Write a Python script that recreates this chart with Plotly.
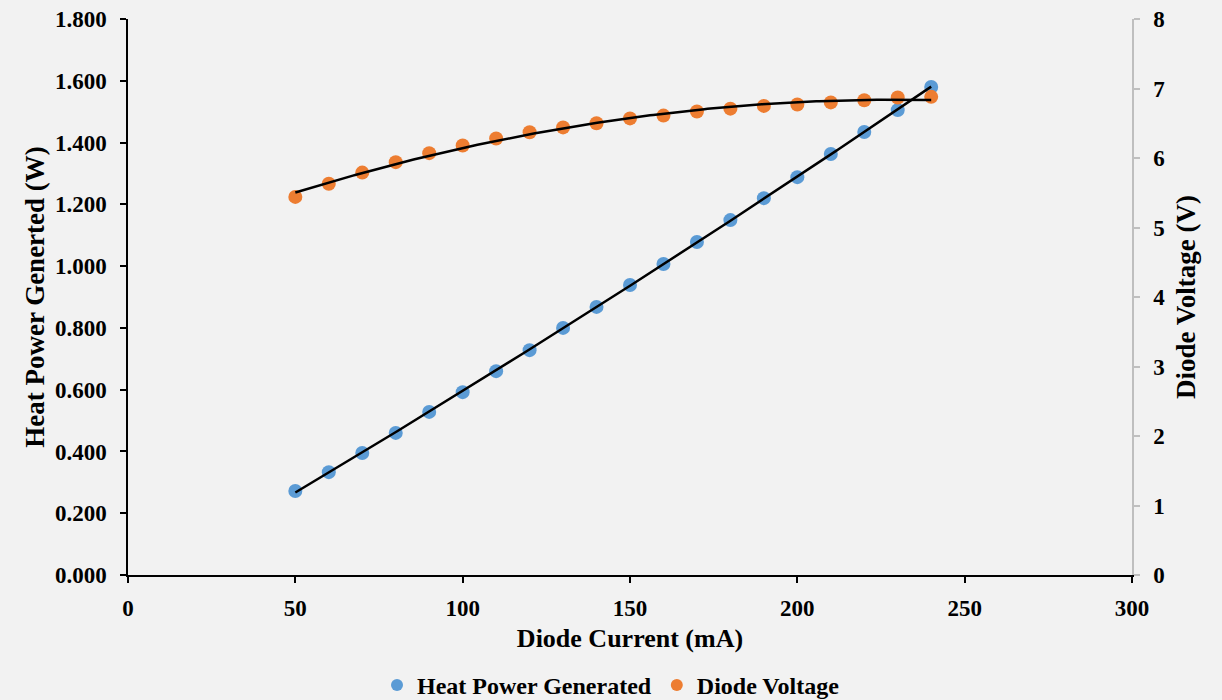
import numpy as np
import plotly.graph_objects as go

current_ma = [50, 60, 70, 80, 90, 100, 110, 120, 130, 140, 150, 160, 170, 180, 190, 200, 210, 220, 230, 240]
heat_power_w = [0.272, 0.333, 0.395, 0.460, 0.528, 0.592, 0.660, 0.728, 0.800, 0.868, 0.939, 1.007,
                1.078, 1.149, 1.220, 1.288, 1.363, 1.434, 1.505, 1.580]
diode_voltage_v = [5.44, 5.63, 5.79, 5.94, 6.07, 6.18, 6.28, 6.37, 6.44, 6.50, 6.57, 6.61,
                   6.67, 6.71, 6.75, 6.77, 6.80, 6.83, 6.87, 6.88]

x_ticks = [0, 50, 100, 150, 200, 250, 300]
y1_ticks = [0, 0.2, 0.4, 0.6, 0.8, 1.0, 1.2, 1.4, 1.6, 1.8]
y2_ticks = [0, 1, 2, 3, 4, 5, 6, 7, 8]

FONT = "Liberation Serif"
BLUE = "#5B9BD5"
ORANGE = "#ED7D31"

# polynomial (order 2) trendlines, as in the source chart
xs = np.linspace(min(current_ma), max(current_ma), 200)
p_heat = np.polyfit(current_ma, heat_power_w, 2)
p_volt = np.polyfit(current_ma, diode_voltage_v, 2)

fig = go.Figure()
fig.add_trace(go.Scatter(x=current_ma, y=heat_power_w, mode="markers", name="Heat Power Generated",
                         marker=dict(color=BLUE, size=14), yaxis="y"))
fig.add_trace(go.Scatter(x=current_ma, y=diode_voltage_v, mode="markers", name="Diode Voltage",
                         marker=dict(color=ORANGE, size=14), yaxis="y2"))
fig.add_trace(go.Scatter(x=xs, y=np.polyval(p_heat, xs), mode="lines", showlegend=False,
                         line=dict(color="black", width=2.5), yaxis="y", hoverinfo="skip"))
fig.add_trace(go.Scatter(x=xs, y=np.polyval(p_volt, xs), mode="lines", showlegend=False,
                         line=dict(color="black", width=2.5), yaxis="y2", hoverinfo="skip"))

TICK = dict(family=FONT, size=23, weight="bold", color="black")

fig.update_layout(
    width=1222, height=700,
    margin=dict(l=128, r=90, t=19, b=125, autoexpand=False),
    paper_bgcolor="#f2f2f2", plot_bgcolor="#f2f2f2",
    font=dict(family=FONT, size=18, color="black"),
    showlegend=True,
    legend=dict(orientation="h", x=0.5, xanchor="center", xref="container",
                y=0.021, yanchor="middle", yref="container",
                font=dict(family=FONT, size=24, color="black", weight="bold"),
                itemsizing="constant", itemwidth=30, tracegroupgap=0, bgcolor="rgba(0,0,0,0)"),
    xaxis=dict(range=[0, 300], tickvals=x_ticks, showgrid=False, zeroline=False, automargin=False,
               showline=True, linecolor="black", linewidth=1.5,
               ticks="outside", ticklen=6, tickwidth=1.5, tickcolor="black",
               ticklabelstandoff=6, tickfont=TICK,
               title=dict(text="Diode Current (mA)", standoff=8,
                          font=dict(family=FONT, size=26, weight="bold", color="black"))),
    yaxis=dict(range=[0, 1.8], tickvals=y1_ticks, tickformat=".3f", showgrid=False, zeroline=False,
               automargin=False, showline=True, linecolor="black", linewidth=1.5,
               ticks="outside", ticklen=6, tickwidth=1.5, tickcolor="black",
               ticklabelstandoff=9, tickfont=TICK,
               title=dict(text="Heat Power Generted (W)", standoff=2,
                          font=dict(family=FONT, size=27, weight="bold", color="black"))),
    yaxis2=dict(range=[0, 8], tickvals=y2_ticks, overlaying="y", side="right", showgrid=False,
                automargin=False, zeroline=False, showline=True, linecolor="#bfbfbf", linewidth=1.5,
                ticks="outside", ticklen=6, tickwidth=1.5, tickcolor="#bfbfbf",
                ticklabelstandoff=9, tickfont=TICK,
                title=dict(text="Diode Voltage (V)", standoff=12,
                           font=dict(family=FONT, size=27, weight="bold", color="black"))),
)

fig.write_html("out.html", config={"displayModeBar": False},
               post_script="document.body.style.margin='0';document.body.style.overflow='hidden';")
